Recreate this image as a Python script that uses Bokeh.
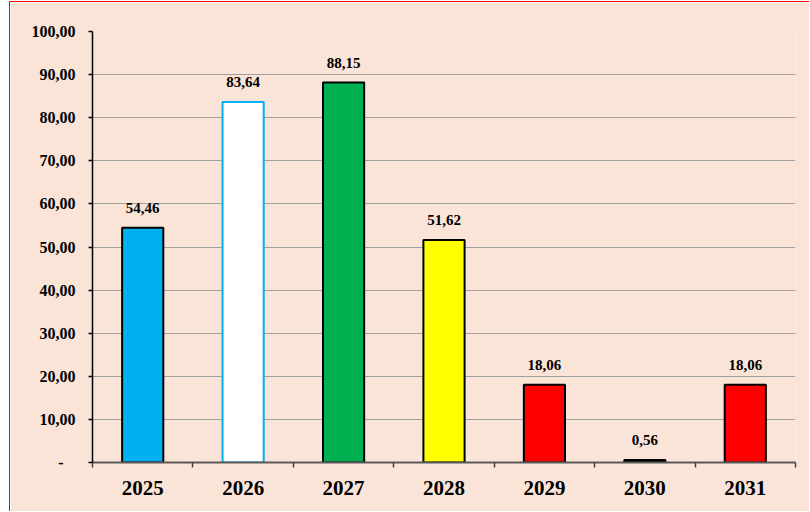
from bokeh.plotting import figure
from bokeh.models import ColumnDataSource, FixedTicker, Range1d
from bokeh.embed import file_html
from bokeh.resources import INLINE

years = ["2025", "2026", "2027", "2028", "2029", "2030", "2031"]
values = [54.46, 83.64, 88.15, 51.62, 18.06, 0.56, 18.06]
fills = ["#00B0F0", "#FFFFFF", "#00B050", "#FFFF00", "#FF0000", "#000000", "#FF0000"]
borders = ["#000000", "#00B0F0", "#000000", "#000000", "#000000", "#000000", "#000000"]
y_ticks = [0, 10, 20, 30, 40, 50, 60, 70, 80, 90, 100]

FONT = "Liberation Serif"
BG = "#FAE4D8"

def fmt(v):
    return f"{v:.2f}".replace(".", ",")

xs = [i + 0.5 for i in range(len(years))]
src = ColumnDataSource(dict(x=xs, top=values, fill=fills, line=borders,
                            label=[fmt(v) for v in values]))

p = figure(width=800, height=510, output_backend="svg", toolbar_location=None,
           x_range=Range1d(0, len(years)), y_range=Range1d(0, 100),
           min_border_left=82, min_border_right=15, min_border_top=29, min_border_bottom=50)
p.background_fill_color = BG
p.border_fill_color = BG
p.outline_line_color = None
p.styles = {"border-left": "1px solid #FF0000", "border-top": "1px solid #FF0000",
            "margin-left": "9px", "margin-top": "1px"}

p.vbar(x="x", top="top", bottom=0, width=0.41, source=src,
       fill_color="fill", line_color="line", line_width=2)
p.text(x="x", y="top", text="label", source=src, text_align="center",
       text_baseline="bottom", y_offset=-15, text_font={"value": FONT},
       text_font_style="bold", text_font_size="15px", text_color="#000000")

# x axis
p.xaxis.ticker = FixedTicker(ticks=xs, minor_ticks=list(range(len(years) + 1)))
p.xaxis.major_label_overrides = {x: y for x, y in zip(xs, years)}
p.xaxis.major_tick_line_color = None
p.xaxis.minor_tick_in = 0
p.xaxis.minor_tick_out = 5
p.xaxis.minor_tick_line_color = "#404040"
p.xaxis.minor_tick_line_width = 1.5
p.xaxis.axis_line_color = "#595959"
p.xaxis.axis_line_width = 2
p.xaxis.major_label_text_font = FONT
p.xaxis.major_label_text_font_style = "bold"
p.xaxis.major_label_text_font_size = "21px"
p.xaxis.major_label_text_color = "#000000"
p.xaxis.major_label_standoff = 12

# y axis
p.yaxis.ticker = FixedTicker(ticks=y_ticks, minor_ticks=[])
p.yaxis.major_label_overrides = {t: (fmt(t) if t else "-\u00a0\u00a0\u00a0") for t in y_ticks}
p.yaxis.major_tick_in = 0
p.yaxis.major_tick_out = 4
p.yaxis.major_tick_line_color = "#000000"
p.yaxis.major_tick_line_width = 1.5
p.yaxis.axis_line_color = "#000000"
p.yaxis.axis_line_width = 1.5
p.yaxis.major_label_text_font = FONT
p.yaxis.major_label_text_font_style = "bold"
p.yaxis.major_label_text_font_size = "16px"
p.yaxis.major_label_text_color = "#000000"
p.yaxis.major_label_standoff = 13

p.xgrid.grid_line_color = None
p.ygrid.grid_line_color = "#A0A0A0"
p.ygrid.grid_line_width = 1.2

open("out.html", "w").write(file_html(p, INLINE))
